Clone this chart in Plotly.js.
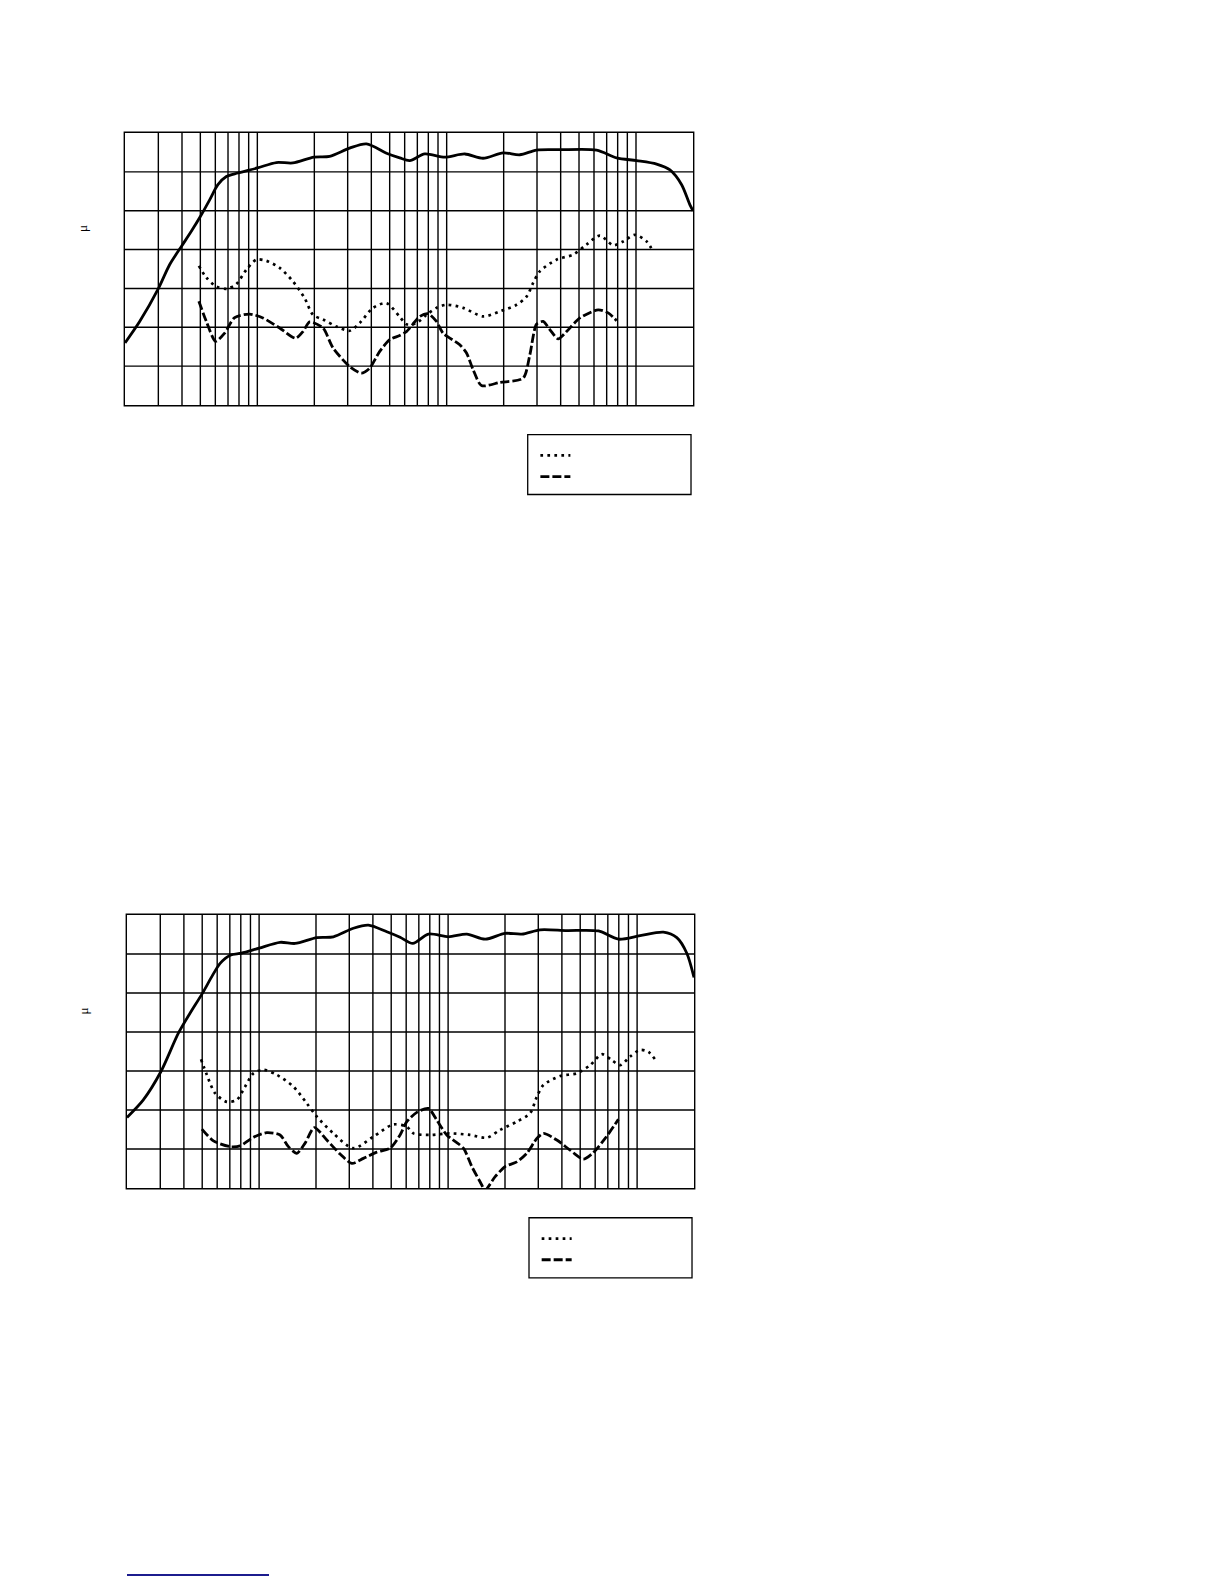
<!DOCTYPE html>
<html>
<head>
<meta charset="utf-8">
<script src="https://cdn.plot.ly/plotly-3.0.1.min.js"></script>
<style>
  body { margin: 0; background: #fff; width: 1224px; height: 1584px; position: relative; }
  .chart { position: absolute; left: 0; width: 1224px; height: 540px; }
  #rule { position: absolute; left: 127px; top: 1574px; width: 142px; height: 2px; background: #1c1c8e; }
  /* keep every grid line the same weight */
  .js-plotly-plot .xgrid, .js-plotly-plot .ygrid, .js-plotly-plot .crisp {
    shape-rendering: geometricPrecision !important;
  }
</style>
</head>
<body>
<div id="top" class="chart" style="top:0px"></div>
<div id="bottom" class="chart" style="top:780px"></div>
<div id="rule"></div>
<script>
// grid lines of the log frequency axis (Hz)
const gridHz = [20, 30, 40, 50, 60, 70, 80, 90, 100, 200, 300, 400, 500, 600, 700, 800, 900,
  1000, 2000, 3000, 4000, 5000, 6000, 7000, 8000, 9000, 10000, 20000];

// upper chart
const topSolidHz = [20, 23.9, 30.1, 34.4, 39.7, 44.8, 50, 56, 61.9, 68.6, 79, 100, 126, 154, 199, 241, 307, 377,
  481, 565, 638, 766, 977, 1247, 1557, 1987, 2434, 2983, 3961, 6193, 7900, 10074, 12850, 15110, 17420, 19270, 20000];
const topSolidVal = [16.0, 21.5, 30.1, 36.1, 40.8, 44.7, 48.5, 52.8, 56.7, 58.8, 59.7, 61.0, 62.4, 62.3, 63.8, 64.0, 66.1, 67.2,
  64.8, 63.6, 62.9, 64.6, 63.8, 64.6, 63.5, 64.9, 64.4, 65.6, 65.7, 65.6, 63.6, 62.9, 62.0, 60.5, 56.7, 51.5, 50.0];

const topDotHz = [49.1, 53.8, 60.7, 68.6, 77.4, 87.5, 98.8, 111.6, 131.2, 154.2, 177.8, 196.7, 222.3, 261.6, 307.4,
  347.3, 408.3, 480.7, 565, 613, 692.3, 782, 883.5, 998, 1221, 1557, 1909, 2339, 2642, 2862, 3105, 3805, 4657,
  5482, 6445, 7578, 8557, 9867, 11376, 12330];
const topDotVal = [35.8, 32.8, 30.5, 29.9, 31.1, 34.8, 37.4, 37.1, 35.3, 31.8, 27.5, 23.2, 22.0, 20.2, 19.1,
  21.1, 25.0, 26.2, 22.7, 20.8, 21.1, 23.2, 25.0, 25.8, 25.0, 22.8, 24.1, 25.8, 27.9, 31.4, 34.4, 37.4, 38.7,
  41.3, 43.6, 41.1, 42.1, 43.8, 42.1, 39.4];

const topDashHz = [49.1, 53.8, 60.2, 67.2, 75.9, 91, 107.1, 131.2, 159.4, 174.2, 189, 222.3, 251, 307.4, 354.6,
  392.3, 443, 500.3, 565, 613, 638, 721, 797.4, 883.5, 957, 1173, 1273, 1379, 1527, 1909, 2534, 2750, 2983,
  3232, 3507, 3880, 4298, 5052, 6313, 7131, 7900];
const topDashVal = [26.7, 21.5, 16.4, 18.5, 22.5, 23.4, 22.4, 19.8, 17.2, 18.9, 21.4, 19.8, 14.7, 9.9, 8.2,
  9.5, 13.8, 16.8, 17.9, 18.9, 19.8, 22.8, 23.5, 21.5, 18.5, 15.5, 13.4, 9.1, 5.0, 5.8, 6.9, 12.9, 20.8,
  21.5, 19.4, 17.0, 18.9, 22.4, 24.5, 23.7, 21.7];

// lower chart
const botSolidHz = [20, 24.4, 30.2, 37.4, 43.1, 50.1, 56.2, 62.2, 70.3, 80.6, 100, 129.1, 155.1, 202, 247.2, 315.4,
  378.6, 474, 557, 650.6, 786.7, 1004, 1256, 1570, 2003, 2455, 3068, 4246, 6242, 7961, 10373, 13784, 16227, 18323, 20000];
const botSolidVal = [18.1, 22.6, 29.8, 39.7, 44.8, 49.9, 54.2, 57.6, 59.7, 60.2, 61.5, 63.0, 62.7, 64.2, 64.4, 66.6,
  67.4, 65.7, 64.3, 62.7, 65.1, 64.4, 65.1, 63.8, 65.3, 65.1, 66.2, 66.0, 65.9, 63.8, 64.7, 65.6, 64.2, 60.2, 54.0];

const botDotHz = [49.3, 52.9, 58.5, 67.5, 76.2, 84.3, 93.3, 105.4, 124.1, 151.9, 178.8, 202, 247.2, 315.4, 402.6,
  513.6, 604.6, 655.3, 803.3, 1025, 1307, 1603, 1884, 2309, 2716, 2947, 3193, 3914, 4797, 5640, 6505, 7346,
  8131, 9184, 10373, 11477, 12609];
const botDotVal = [33.0, 29.0, 24.3, 22.1, 22.6, 26.0, 29.4, 30.3, 29.0, 26.0, 21.7, 18.3, 14.0, 10.2, 13.2,
  16.3, 15.7, 14.0, 13.6, 14.0, 13.6, 12.9, 14.9, 17.0, 19.2, 23.4, 26.4, 28.7, 29.4, 31.5, 34.3, 32.8,
  31.5, 33.7, 35.4, 34.9, 32.6];

const botDashHz = [49.8, 57.3, 70.3, 79.3, 93.3, 109.8, 129.1, 142.9, 158.3, 175.1, 196.1, 228.1, 268.3, 309.4,
  356.4, 419.6, 493.3, 557, 604.6, 683, 786.7, 871.5, 984, 1205, 1335, 1476, 1570, 1774, 2003, 2309, 2610,
  2947, 3193, 3759, 4421, 5198, 5871, 6773, 7961];
const botDashVal = [15.1, 12.1, 10.6, 10.8, 13.0, 14.2, 13.6, 10.6, 8.9, 11.5, 15.5, 12.3, 8.7, 6.3,
  7.6, 9.2, 10.2, 13.6, 17.0, 19.4, 20.4, 17.4, 13.6, 10.2, 5.5, 1.6, -0.5, 2.9, 5.5, 6.7, 8.9,
  12.7, 14.0, 12.3, 9.7, 7.4, 9.1, 12.7, 17.6];

function drawChart(id, solid, dot, dash, margin) {
  const traces = [
    { x: solid[0], y: solid[1], mode: "lines", showlegend: false,
      line: { color: "#000", width: 2.8, shape: "spline", smoothing: 0.8 } },
    { x: dot[0], y: dot[1], mode: "lines", name: " ",
      line: { color: "#000", width: 2.7, dash: "2.7px,4.3px", shape: "spline", smoothing: 0.8 } },
    { x: dash[0], y: dash[1], mode: "lines", name: " ",
      line: { color: "#000", width: 2.8, dash: "9px,3px", shape: "spline", smoothing: 0.7 } },
  ];

  const layout = {
    width: 1224,
    height: 540,
    margin: margin,
    paper_bgcolor: "#fff",
    plot_bgcolor: "#fff",
    showlegend: true,
    font: { family: "Liberation Serif", color: "#000" },
    xaxis: {
      type: "log",
      range: [Math.log10(20), Math.log10(20000)],
      tickmode: "array",
      tickvals: gridHz,
      showticklabels: false,
      ticks: "",
      showgrid: true,
      gridcolor: "#000",
      gridwidth: 1.4,
      showline: true,
      mirror: true,
      linecolor: "#000",
      linewidth: 1.4,
      zeroline: false,
    },
    yaxis: {
      range: [0, 70],
      dtick: 10,
      showticklabels: false,
      ticks: "",
      showgrid: true,
      gridcolor: "#000",
      gridwidth: 1.4,
      showline: true,
      mirror: true,
      linecolor: "#000",
      linewidth: 1.4,
      zeroline: false,
    },
    legend: {
      x: 0.7225, y: -0.128, xanchor: "left", yanchor: "top",
      font: { size: 14 },
      bgcolor: "rgba(0,0,0,0)",
      borderwidth: 0,
    },
    // legend frame
    shapes: [{
      type: "rect", xref: "paper", yref: "paper",
      x0: 0.709, x1: 0.9965, y0: -0.109, y1: -0.329,
      line: { color: "#000", width: 1.3 },
    }],
    annotations: [{
      text: "μ", xref: "paper", yref: "paper",
      x: -0.076, y: 0.65, xanchor: "center", yanchor: "middle",
      showarrow: false, textangle: -90,
      font: { family: "Liberation Serif", size: 13, color: "#000" },
    }],
  };

  Plotly.newPlot(id, traces, layout, { displayModeBar: false, staticPlot: true });
}

drawChart("top", [topSolidHz, topSolidVal], [topDotHz, topDotVal], [topDashHz, topDashVal],
  { l: 125, r: 531, t: 133, b: 135, pad: 0 });
drawChart("bottom", [botSolidHz, botSolidVal], [botDotHz, botDotVal], [botDashHz, botDashVal],
  { l: 127, r: 530, t: 135, b: 132, pad: 0 });
</script>
</body>
</html>
